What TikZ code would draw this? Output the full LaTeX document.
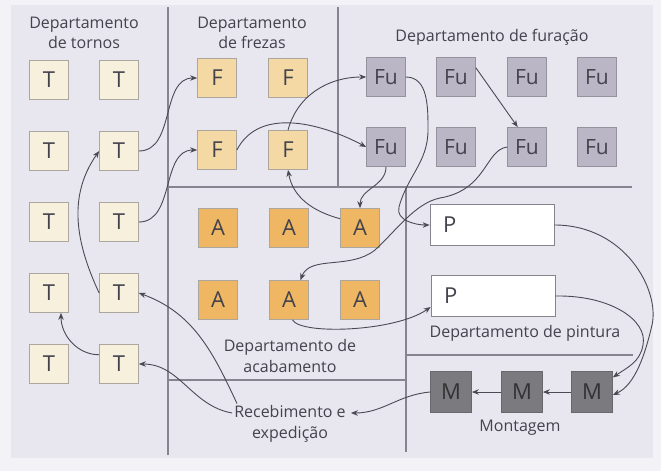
\documentclass[tikz,border=0pt]{standalone}
\usepackage{fontspec}
\setmainfont{Open Sans}
\usetikzlibrary{arrows.meta,calc}
\definecolor{pagebg}{HTML}{F3F2F6}
\definecolor{paper}{HTML}{E8E6EE}
\definecolor{txt}{HTML}{43434D}
\definecolor{linec}{HTML}{4A4A56}
\definecolor{divc}{HTML}{85848F}
\definecolor{tcol}{HTML}{F6F0DC}
\definecolor{fcol}{HTML}{F4D9A4}
\definecolor{acol}{HTML}{EFB663}
\definecolor{fucol}{HTML}{BAB6C6}
\definecolor{mcol}{HTML}{7A7A7F}
\definecolor{bordc}{HTML}{ABA69E}
\begin{document}
\begin{tikzpicture}[x=1pt,y=1pt,
  box/.style={draw=bordc, line width=0.7pt, minimum size=39pt, inner sep=0pt,
    font=\fontsize{22}{26}\selectfont, text=txt},
  tbox/.style={box, fill=tcol},
  fbox/.style={box, fill=fcol},
  abox/.style={box, fill=acol},
  fubox/.style={box, fill=fucol, draw=fucol!80!black, font=\fontsize{21}{25}\selectfont},
  mbox/.style={box, fill=mcol, draw=mcol!85!black, minimum size=41pt, text=black!80},
  pbox/.style={box, fill=white, draw=divc, minimum width=124pt, minimum height=41pt,
    inner xsep=13pt, text width=98pt, align=left},
  lbl/.style={font=\fontsize{16}{20.5}\selectfont, text=txt, align=center, inner sep=2pt},
  conn/.style={draw=linec, line width=0.9pt, -{Stealth[length=7pt,width=5.5pt]}},
  divline/.style={draw=divc, line width=1.1pt}]
\useasboundingbox (0,0) rectangle (661,-471);
\fill[pagebg] (0,0) rectangle (661,-471);
\fill[paper] (11,-5) rectangle (653,-458);

% dividers
\draw[divline] (168,-7) -- (168,-455);
\draw[divline] (338,-7) -- (338,-187);
\draw[divline] (168,-187) -- (632,-187);
\draw[divline] (406,-187) -- (406,-452);
\draw[divline] (168,-380) -- (406,-380);
\draw[divline] (406,-355) -- (633,-355);

% labels
\node[lbl] (ltor) at (84,-33) {Departamento\\de tornos};
\node[lbl] (lfre) at (252,-33) {Departamento\\de frezas};
\node[lbl] (lfur) at (492,-37) {Departamento de furação};
\node[lbl] (laca) at (290,-356) {Departamento de\\acabamento};
\node[lbl] (lpin) at (525,-333) {Departamento de pintura};
\node[lbl] (lmon) at (520,-428) {Montagem};
\node[lbl] (rec) at (290,-424) {Recebimento e\\expedição};

% T
\node[tbox] (T11) at (49,-80) {T};
\node[tbox] (T12) at (119,-80) {T};
\node[tbox] (T21) at (49,-151) {T};
\node[tbox] (T22) at (119,-151) {T};
\node[tbox] (T31) at (49,-222) {T};
\node[tbox] (T32) at (119,-222) {T};
\node[tbox] (T41) at (49,-293) {T};
\node[tbox] (T42) at (119,-293) {T};
\node[tbox] (T51) at (49,-364) {T};
\node[tbox] (T52) at (119,-364) {T};
% F
\node[fbox] (F11) at (217,-78) {F};
\node[fbox] (F12) at (288,-78) {F};
\node[fbox] (F21) at (217,-150) {F};
\node[fbox] (F22) at (288,-150) {F};
% A
\node[abox] (A11) at (218,-228) {A};
\node[abox] (A12) at (289,-228) {A};
\node[abox] (A13) at (360,-228) {A};
\node[abox] (A21) at (218,-300) {A};
\node[abox] (A22) at (289,-300) {A};
\node[abox] (A23) at (360,-300) {A};
% Fu
\node[fubox] (Fu11) at (386,-77) {Fu};
\node[fubox] (Fu12) at (456,-77) {Fu};
\node[fubox] (Fu13) at (527,-77) {Fu};
\node[fubox] (Fu14) at (597,-77) {Fu};
\node[fubox] (Fu21) at (386,-147) {Fu};
\node[fubox] (Fu22) at (456,-147) {Fu};
\node[fubox] (Fu23) at (527,-147) {Fu};
\node[fubox] (Fu24) at (597,-147) {Fu};
% P
\node[pbox] (P1) at (492,-225) {P};
\node[pbox] (P2) at (493,-296) {P};
% M
\node[mbox] (M1) at (451,-392) {M};
\node[mbox] (M2) at (522,-392) {M};
\node[mbox] (M3) at (592,-392) {M};

% connectors
\draw[conn] (T22.east) to[out=0,in=180] (F11.west);
\draw[conn] (T32.east) to[out=0,in=180] (F21.west);
\draw[conn] (T42.west) to[out=115,in=235] (T22.west);
\draw[conn] ([xshift=-53pt]rec.north) to[out=115,in=-20] (T42.east);
\draw[conn] ([yshift=11pt]rec.west) to[out=170,in=0] (T52.east);
\draw[conn] (T52.155) to[out=180,in=-90] ([xshift=12pt]T41.south);
\draw[conn] (F21.east) .. controls (260,-105) and (325,-125) .. (Fu21.west);
\draw[conn] (F22.north) to[out=75,in=180] (Fu11.west);
\draw[conn] (A13.155) to[out=165,in=-80] (F22.south);
\draw[conn] (Fu21.south) to[out=-90,in=90] (A13.north);
\draw[conn] (Fu11.east) to[out=0,in=90] (428,-130) to[out=-90,in=75] (399,-207) to[out=-105,in=180] (P1.west);
\draw[conn] (Fu12.25) -- (Fu23.115);
\draw[conn] (Fu23.west) .. controls (485,-150) and (487,-190) .. (440,-198)
  .. controls (415,-203) and (395,-232) .. (375,-250)
  .. controls (350,-270) and (310,-255) .. (A22.60);
\draw[conn] (A22.-80) .. controls (300,-335) and (395,-332) .. (P2.190);
\draw[conn] (P1.east) .. controls (625,-225) and (660,-290) .. (652,-325)
  .. controls (645,-355) and (635,-385) .. (M3.-8);
\draw[conn] (P2.east) .. controls (610,-295) and (648,-320) .. (643,-345)
  .. controls (640,-362) and (628,-367) .. (M3.35);
\draw[conn] (M3.west) -- (M2.east);
\draw[conn] (M2.west) -- (M1.east);
\draw[conn] (M1.west) to[out=185,in=0] ([xshift=3pt,yshift=11pt]rec.east);
\end{tikzpicture}
\end{document}
